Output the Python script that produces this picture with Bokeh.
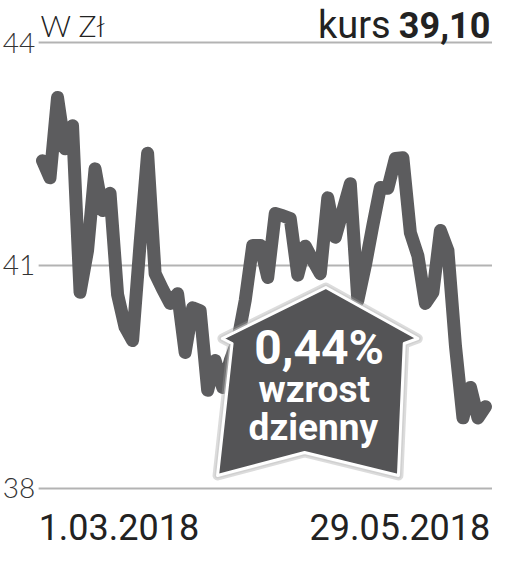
from bokeh.plotting import figure
from bokeh.models import Range1d
from bokeh.core.properties import value
from bokeh.embed import file_html
from bokeh.resources import INLINE

# ---- data ----
prices = [42.41, 42.18, 43.26, 42.57, 42.88, 40.64, 41.20, 42.30, 41.74, 41.97,
          40.61, 40.17, 39.99, 41.30, 42.51, 40.89, 40.68, 40.49, 40.62, 39.83,
          40.43, 40.39, 39.32, 39.72, 39.36, 39.72, 39.99, 40.53, 41.27, 41.27,
          40.84, 41.70, 41.67, 41.63, 40.87, 41.26, 41.07, 40.89, 41.91, 41.38,
          41.74, 42.10, 40.53, 41.00, 41.54, 42.05, 42.04, 42.44, 42.45, 41.44,
          41.13, 40.49, 40.64, 41.47, 41.20, 39.92, 38.95, 39.36, 38.95, 39.10]
days = list(range(len(prices)))
y_ticks = [38, 41, 44]
y_tick_labels = ["38", "41", "44"]
date_labels = ["1.03.2018", "29.05.2018"]
unit_label = "W Zł"
kurs_label = "kurs"
kurs_value = "39,10"
change_lines = ["0,44%", "wzrost", "dzienny"]

# ---- layout helpers (reference pixel positions -> data space) ----
W, H = 492, 548
X0, DX = 42.0, 7.508   # canvas x of first day, px per day


def rx(px):
    return (px - 44) / 7.7627


def ry(py):
    return 44 - (py - 42) / 74.33


p = figure(width=W, height=H, output_backend="svg", toolbar_location=None,
           x_range=Range1d(-X0 / DX, (W - X0) / DX),
           y_range=Range1d(ry(H), ry(0)),
           min_border=0, outline_line_color=None)
p.xaxis.visible = False
p.yaxis.visible = False
p.xgrid.visible = False
p.ygrid.visible = False
p.background_fill_color = "white"

# grid lines
p.segment(x0=[rx(40)] * len(y_ticks), x1=[(W - X0) / DX] * len(y_ticks),
          y0=y_ticks, y1=y_ticks, line_color="#b3b3b3", line_width=2)

# price line
p.line(days, prices, line_color="#5c5c5e", line_width=13,
       line_join="round", line_cap="round")

# arrow badge
arrow_px = [(337, 287), (432, 338), (418, 343), (412, 475), (315, 452),
            (225, 475), (240, 343), (230, 338)]
ax = [rx(a) for a, b in arrow_px]
ay = [ry(b) for a, b in arrow_px]
p.patch(ax, ay, fill_color=None, line_color="#9a9a9a", line_width=10,
        line_alpha=0.35, line_join="round")
p.patch(ax, ay, fill_color=None, line_color="#c8c8c8", line_width=6,
        line_alpha=0.6, line_join="round")
p.patch(ax, ay, fill_color="#545456", line_color="white", line_width=3,
        line_join="round")

bold = value("Roboto")
p.text(x=[rx(330)], y=[ry(347)], text=[change_lines[0]],
       text_font=bold, text_font_style="bold", text_font_size="48px",
       text_color="white", text_align="center", text_baseline="middle")
p.text(x=[rx(325), rx(324)], y=[ry(389), ry(427)],
       text=change_lines[1:], text_font=bold, text_font_style="bold",
       text_font_size="37px", text_color="white", text_align="center",
       text_baseline="middle")

# y tick labels
p.text(x=[rx(3)] * 3, y=y_ticks, text=y_tick_labels,
       text_font=value("Lato Light"), text_font_size="28px",
       text_color="#333333", text_align="left", text_baseline="middle")

# header
p.text(x=[rx(42)], y=[ry(24)], text=[unit_label],
       text_font=value("Lato Light"), text_font_size="30px",
       text_color="#222222", text_align="left", text_baseline="middle")
p.text(x=[rx(404)], y=[ry(24)], text=[kurs_label],
       text_font=value("Roboto"), text_font_size="38px",
       text_color="#222222", text_align="right", text_baseline="middle")
p.text(x=[rx(507)], y=[ry(24)], text=[kurs_value],
       text_font=value("Roboto"), text_font_style="bold", text_font_size="36px",
       text_color="#222222", text_align="right", text_baseline="middle")

# date labels
p.text(x=[rx(40), rx(507)], y=[ry(526)] * 2, text=date_labels,
       text_font=value("Roboto"), text_font_size="36px", text_color="#222222",
       text_align=["left", "right"], text_baseline="middle")

open("out.html", "w").write(file_html(p, INLINE))
